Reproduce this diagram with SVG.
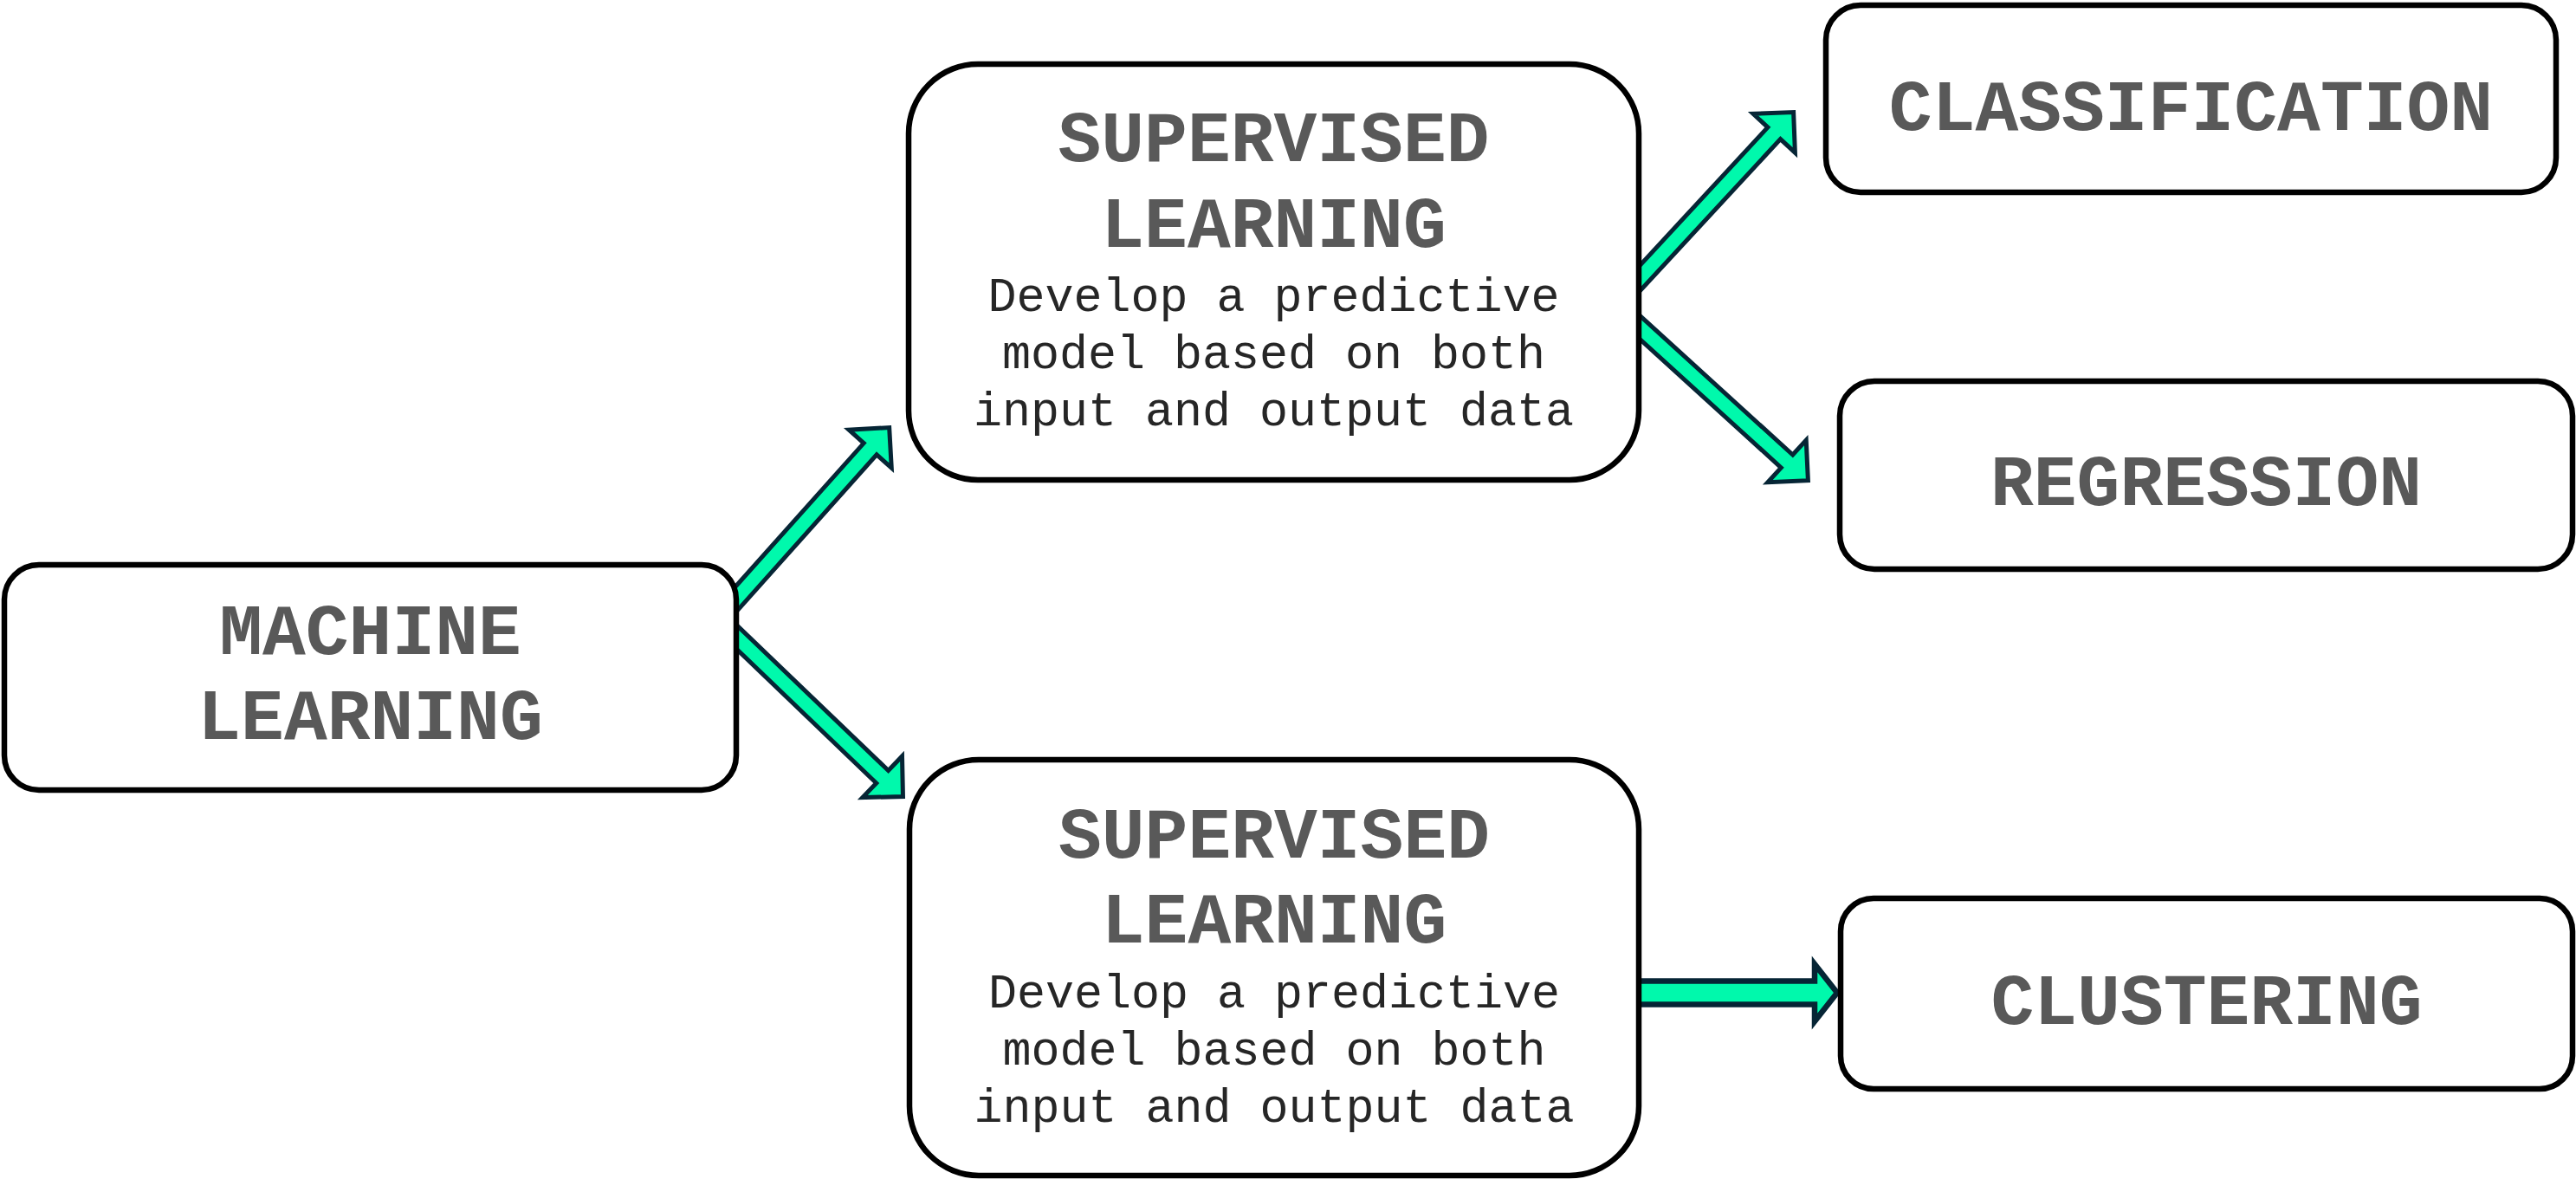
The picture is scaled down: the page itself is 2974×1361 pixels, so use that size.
<svg xmlns="http://www.w3.org/2000/svg" width="2974" height="1361" viewBox="0 0 2974 1361">
<style>
.box{fill:#ffffff;stroke:#000000;stroke-width:6.5}
.title{font-family:"Courier New","Nimbus Mono PS","FreeMono","Liberation Mono",monospace;font-weight:bold;font-size:83px;fill:#595959;text-anchor:middle}
.desc{font-family:"Courier New","Nimbus Mono PS","FreeMono","Liberation Mono",monospace;font-size:55px;fill:#262626;text-anchor:middle}
.arrow{fill:#00F9AC;stroke:#062535;stroke-width:5;stroke-linejoin:miter}
</style>
<defs>
<polygon id="diag" points="-300,-10 -36.5,-10 -36.5,-33 -3.5,0 -36.5,33 -36.5,10 -300,10"/>
</defs>
<rect width="2974" height="1361" fill="#ffffff"/>
<g id="connectors">
<use href="#diag" class="arrow" transform="translate(1029,491) rotate(-48.2)"/>
<use href="#diag" class="arrow" transform="translate(1045,922) rotate(43.8)"/>
<use href="#diag" class="arrow" transform="translate(2073,127) rotate(-47.2)"/>
<use href="#diag" class="arrow" transform="translate(2090,557) rotate(42.3)"/>
<polygon class="arrow" style="stroke-width:6.5" points="1880,1132.5 2095,1132.5 2095,1113 2121,1146 2095,1179 2095,1159.5 1880,1159.5"/>
</g>
<g id="machine-learning">
<rect class="box" x="5" y="652" width="845" height="260" rx="40" ry="40"/>
<text class="title" x="427.5" y="755">MACHINE</text>
<text class="title" x="427.5" y="853">LEARNING</text>
</g>
<g id="supervised-learning-1">
<rect class="box" x="1049" y="74" width="843" height="480" rx="80" ry="80"/>
<text class="title" x="1470.5" y="186">SUPERVISED</text>
<text class="title" x="1470.5" y="285">LEARNING</text>
<text class="desc" x="1470.5" y="359">Develop a predictive</text>
<text class="desc" x="1470.5" y="425">model based on both</text>
<text class="desc" x="1470.5" y="491">input and output data</text>
</g>
<g id="supervised-learning-2">
<rect class="box" x="1050" y="877" width="842" height="480" rx="80" ry="80"/>
<text class="title" x="1471" y="990">SUPERVISED</text>
<text class="title" x="1471" y="1088">LEARNING</text>
<text class="desc" x="1471" y="1163">Develop a predictive</text>
<text class="desc" x="1471" y="1229">model based on both</text>
<text class="desc" x="1471" y="1295">input and output data</text>
</g>
<g id="classification">
<rect class="box" x="2108" y="6" width="843" height="216" rx="40" ry="40"/>
<text class="title" x="2529.5" y="150">CLASSIFICATION</text>
</g>
<g id="regression">
<rect class="box" x="2124" y="440" width="846" height="217" rx="40" ry="40"/>
<text class="title" x="2547" y="583">REGRESSION</text>
</g>
<g id="clustering">
<rect class="box" x="2125" y="1037" width="845" height="220" rx="38" ry="38"/>
<text class="title" x="2547.5" y="1182">CLUSTERING</text>
</g>
</svg>
